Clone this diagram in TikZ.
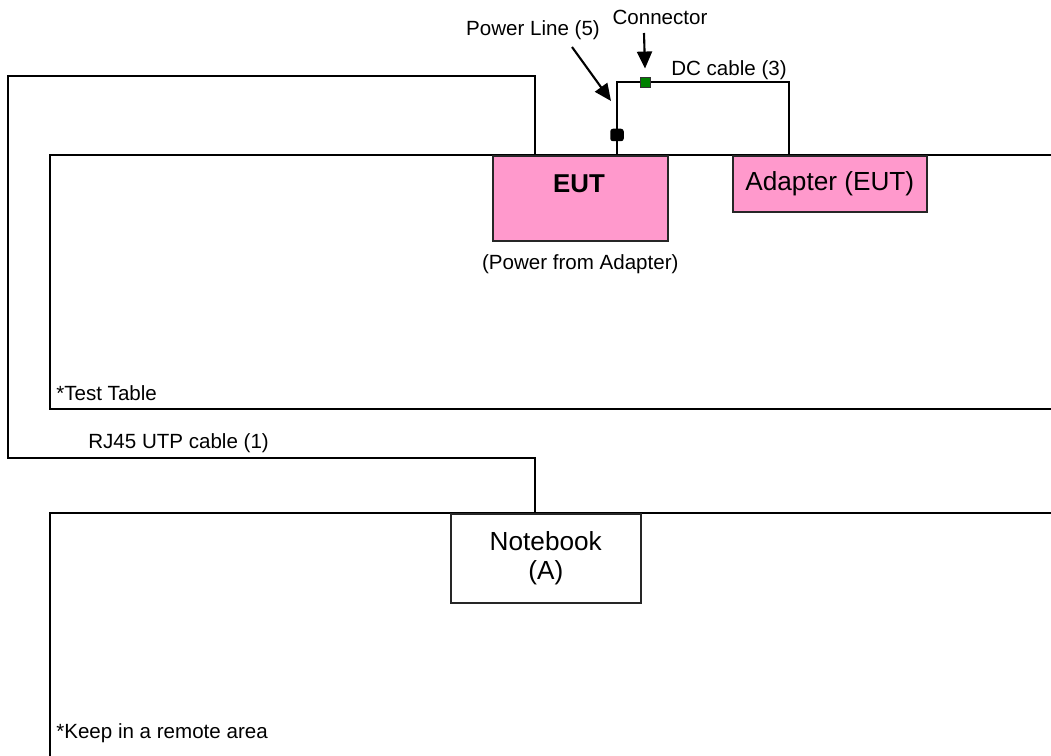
\documentclass[tikz,border=0pt]{standalone}
\usepackage{fontspec}
\setmainfont{Liberation Sans}
\usetikzlibrary{positioning}
\usetikzlibrary{arrows.meta}
\definecolor{eutpink}{HTML}{FF99CC}
\definecolor{conngreen}{HTML}{008000}

\begin{document}
\begin{tikzpicture}[x=0.02cm,y=-0.02cm,
box/.style={draw=black!85,line width=0.9pt,inner sep=0pt,anchor=north west},
small/.style={font=\fontsize{11.7}{13.5}\selectfont,inner sep=0pt},
big/.style={font=\fontsize{14.9}{17}\selectfont,inner sep=0pt},
wire/.style={line width=0.8pt},
pointer/.style={-{Triangle[length=0.34cm,width=0.3cm]},line width=1.2pt}]
\useasboundingbox (0,0) rectangle (1051,756);
\draw[wire] (1051,155) -- (50,155) -- (50,409) -- (1051,409);
\draw[wire] (1051,513) -- (50,513) -- (50,760);
\node[box,fill=eutpink,minimum width=3.5cm,minimum height=1.7cm] (eut) at (492,155) {};
\node[big,font=\fontsize{14.7}{17}\selectfont\bfseries] (euttext) at (579,184) {EUT};
\node[small,below=0.25cm of eut] (eutnote) {(Power from Adapter)};
\node[box,fill=eutpink,minimum width=3.88cm,minimum height=1.12cm,big] (adapter) at (732,155) {Adapter (EUT)};
\node[box,minimum width=3.8cm,minimum height=1.78cm,big,align=center] (notebook) at (450,513) {Notebook\\(A)};
\coordinate (rjbend) at (535,458);
\coordinate (dcl) at (617,82);
\coordinate (dcr) at (789,82);
\draw[wire] (eut.north -| rjbend) |- (8,76) |- (rjbend) -- (notebook.north -| rjbend);
\draw[wire] (eut.north -| dcl) -- (dcl) -- (dcr) -- (adapter.north -| dcr);
\node[fill=black,rounded corners=1.5pt,minimum width=0.27cm,minimum height=0.25cm,inner sep=0pt] (plug) at (617,135) {};
\node[fill=conngreen,draw=black!80,line width=0.5pt,minimum size=0.2cm,inner sep=0pt] (conn) at (645,82) {};
\node[small] (pwlabel) at (533,30) {Power Line (5)};
\node[small] (connlabel) at (660,17) {Connector};
\node[small] (dclabel) at (729,70) {DC cable (3)};
\coordinate (pwtail) at (572,47);
\coordinate (pwtip) at (611,101);
\coordinate (conntail) at (644,33);
\draw[pointer] (pwtail) -- (pwtip);
\draw[pointer] (conntail) -- ([yshift=0.16cm]conn.north);
\node[small,anchor=west] (tbltext) at (56,393) {*Test Table};
\node[small,anchor=west] (rjtext) at (88,443) {RJ45 UTP cable (1)};
\node[small,anchor=west] (remotetext) at (56,733) {*Keep in a remote area};
\end{tikzpicture}
\end{document}
